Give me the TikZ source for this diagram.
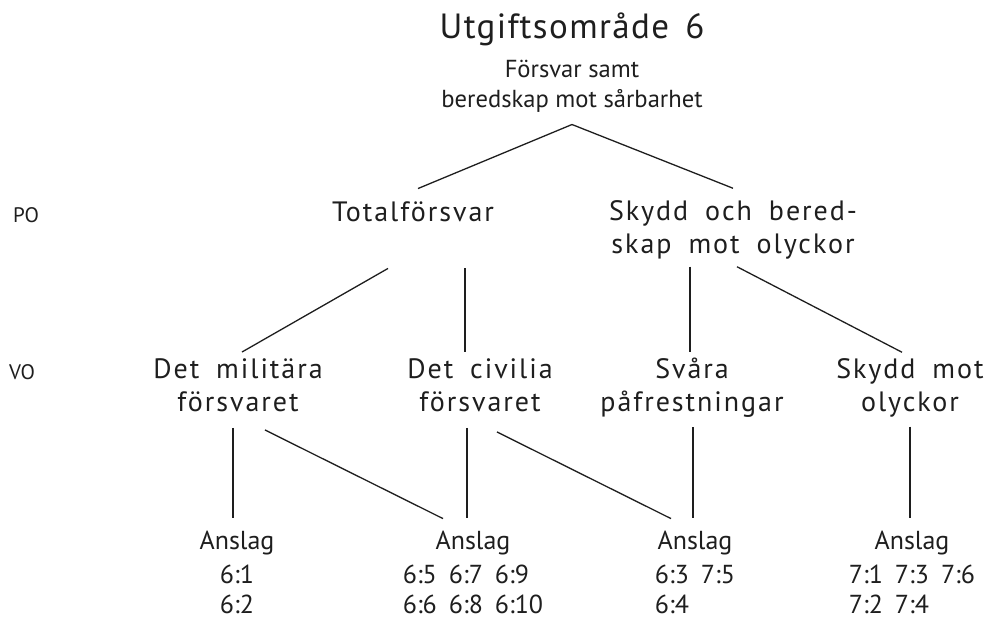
\documentclass[tikz,border=0pt]{standalone}
\usepackage{fontspec}
\setmainfont{PT Sans}
\newfontfamily\spacedfont[LetterSpace=7,WordSpace=1.8]{PT Sans}
\newfontfamily\titlefont[LetterSpace=4,WordSpace=1.5]{PT Sans}
\usetikzlibrary{positioning}
\definecolor{inkgray}{RGB}{30,30,30}

\tikzset{
  conn/.style={draw=inkgray, line width=0.65pt},
  titletxt/.style={font=\titlefont\fontsize{17.5}{20}\selectfont, text=inkgray, inner sep=0pt},
  subtxt/.style={font=\fontsize{12.3}{15}\selectfont, text=inkgray, align=center, inner sep=0pt},
  orgtxt/.style={font=\spacedfont\fontsize{14}{16.5}\selectfont, text=inkgray, align=center, inner sep=0pt},
  lvltxt/.style={font=\fontsize{10.5}{12}\selectfont, text=inkgray, inner sep=0pt},
  anslag/.style={font=\fontsize{13}{15}\selectfont, text=inkgray, inner sep=0pt},
  numtxt/.style={font=\fontsize{13}{15}\selectfont, text=inkgray, inner sep=0pt}
}

\begin{document}
\begin{tikzpicture}[x=0.5pt, y=-0.5pt]
  \useasboundingbox (0,0) rectangle (986,619);

  % top of the tree
  \node[titletxt] (title) at (572,29) {Utgiftsområde 6};
  \node[subtxt] (sub) at (572,86) {Försvar samt\\beredskap mot sårbarhet};

  % level markers
  \node[lvltxt] (po) at (26,215) {PO};
  \node[lvltxt] (vo) at (22,372) {VO};

  % PO level
  \node[orgtxt] (tot) at (413,212) {Totalförsvar};
  \node[orgtxt] (sk) at (733,230) {Skydd och bered-\\skap mot olyckor};

  % VO level
  \node[orgtxt] (mil) at (238,385) {Det militära\\försvaret};
  \node[orgtxt] (civ) at (480,385) {Det civilia\\försvaret};
  \node[orgtxt] (sva) at (692,388) {Svåra\\påfrestningar};
  \node[orgtxt] (skm) at (910,388) {Skydd mot\\olyckor};

  % Anslag
  \node[anslag] (a1) at (237,543) {Anslag};
  \node[anslag] (a2) at (473,543) {Anslag};
  \node[anslag] (a3) at (695,543) {Anslag};
  \node[anslag] (a4) at (912,543) {Anslag};
  \node[numtxt, below=3.5pt of a1] (n1) {\begin{tabular}{@{}l@{}}6:1\\6:2\end{tabular}};
  \node[numtxt, below=3.5pt of a2] (n2) {\begin{tabular}{@{}l@{\hspace{6pt}}l@{\hspace{6pt}}l@{}}6:5&6:7&6:9\\6:6&6:8&6:10\end{tabular}};
  \node[numtxt, below=3.5pt of a3] (n3) {\begin{tabular}{@{}l@{\hspace{6pt}}l@{}}6:3&7:5\\6:4\end{tabular}};
  \node[numtxt, below=3.5pt of a4] (n4) {\begin{tabular}{@{}l@{\hspace{6pt}}l@{\hspace{6pt}}l@{}}7:1&7:3&7:6\\7:2&7:4\end{tabular}};

  % connectors
  \draw[conn] ([yshift=-6pt]sub.south) -- ([xshift=2.5pt,yshift=6.5pt]tot.north);
  \draw[conn] ([yshift=-6pt]sub.south) -- ([yshift=6pt]sk.north);
  \draw[conn] ([xshift=-12.5pt,yshift=-23pt]tot.south) -- ([xshift=2pt,yshift=3pt]mil.north);
  \draw[conn] ([xshift=26pt,yshift=-23pt]tot.south) -- ([xshift=-7.5pt,yshift=3pt]civ.north);
  \draw[conn] ([xshift=-21.5pt,yshift=-3.5pt]sk.south) -- ([xshift=-1pt,yshift=3pt]sva.north);
  \draw[conn] ([xshift=2pt,yshift=-3.5pt]sk.south) -- ([xshift=-4pt,yshift=3pt]skm.north);
  \draw[conn] ([xshift=-2.5pt,yshift=-8pt]mil.south) -- ([xshift=-2pt,yshift=6.5pt]a1.north);
  \draw[conn] ([xshift=13.5pt,yshift=-9pt]mil.south) -- ([xshift=-15pt,yshift=6pt]a2.north);
  \draw[conn] ([xshift=-6.5pt,yshift=-8pt]civ.south) -- ([xshift=-3pt,yshift=6.5pt]a2.north);
  \draw[conn] ([xshift=8.5pt,yshift=-10pt]civ.south) -- ([xshift=-12pt,yshift=6pt]a3.north);
  \draw[conn] ([xshift=0.5pt,yshift=-4.5pt]sva.south) -- ([xshift=-1pt,yshift=6.5pt]a3.north);
  \draw[conn] ([yshift=-4.5pt]skm.south) -- ([xshift=-1pt,yshift=6.5pt]a4.north);
\end{tikzpicture}
\end{document}
